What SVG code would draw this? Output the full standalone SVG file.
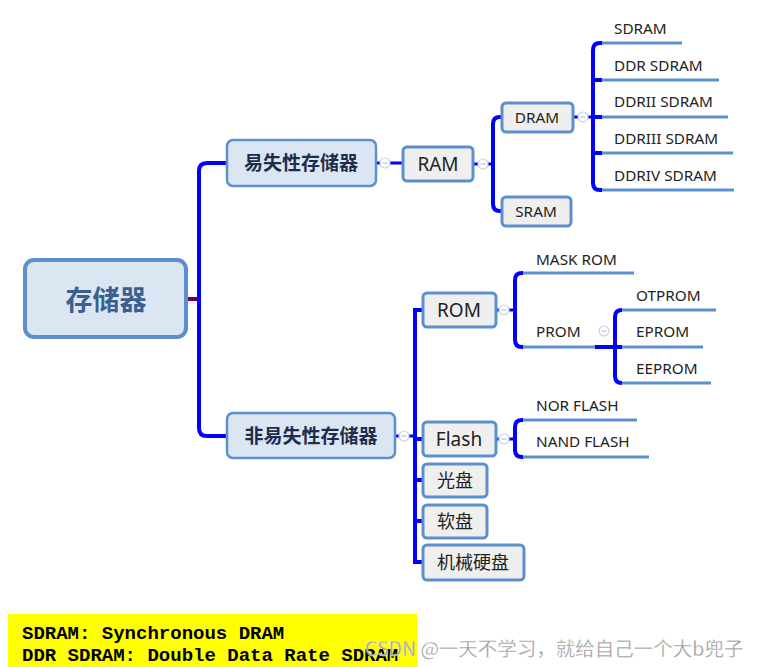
<svg xmlns="http://www.w3.org/2000/svg" width="760" height="667" viewBox="0 0 760 667">
  <style>
    .box { fill: #efefef; stroke: #5b8fd0; stroke-width: 3; }
    .main { fill: #dce6f2; stroke: #5b8fd0; stroke-width: 2.5; }
    .root { fill: #dce6f2; stroke: #5b8fd0; stroke-width: 4; }
    .wire { fill: none; stroke: #0000ff; stroke-width: 4; }
    .thin { fill: none; stroke: #0000ff; stroke-width: 3; }
    .leaf { fill: none; stroke: #5b8fd0; stroke-width: 3; }
    .t { font-family: "Noto Sans", "Open Sans", "Noto Sans CJK SC", sans-serif; font-size: 15.3px; fill: #222; }
    .tb { font-family: "Noto Sans", "Noto Sans CJK SC", sans-serif; font-size: 19px; fill: #222; text-anchor: middle; }
    .cn { font-family: "Noto Sans CJK SC", sans-serif; font-size: 18px; fill: #222; text-anchor: middle; }
    .cnb { font-family: "Noto Sans CJK SC", sans-serif; font-size: 19px; font-weight: bold; fill: #1f2d4d; text-anchor: middle; }
    .mono { font-family: "Liberation Mono", "Courier New", monospace; font-size: 19px; font-weight: bold; fill: #000; }
  </style>
  <defs>
    <g id="toggle">
      <circle r="5" fill="#ffffff" stroke="#c5d3ef" stroke-width="1.2"/>
      <line x1="-2.5" y1="0" x2="2.5" y2="0" stroke="#a0b4e0" stroke-width="1"/>
    </g>
  </defs>

  <rect width="760" height="667" fill="#ffffff"/>

  <!-- connectors -->
  <g id="connectors">
    <path d="M187 299 H198" stroke="#660066" stroke-width="4" fill="none"/>
    <path class="wire" d="M226 163 H207 Q199 163 199 171 V428 Q199 436 207 436 H226"/>
    <path class="thin" d="M377 163 H402"/>
    <path class="thin" d="M474 164 H493"/>
    <path class="wire" d="M501 117 H500 Q493 117 493 124 V204 Q493 211 500 211 H501"/>
    <path class="thin" d="M574 117 H593"/>
    <path class="wire" d="M602 43 H600 Q593 43 593 50 V183 Q593 190 600 190 H602 M593 80 H602 M593 117 H602 M593 153 H602"/>
    <path class="leaf" d="M602 43 H682 M602 80 H719 M602 117 H728 M602 153 H733 M602 190 H734"/>

    <path class="thin" d="M396 436 H415"/>
    <path class="wire" d="M422 310 H415 V562 H422 M415 439 H422 M415 480 H422 M415 521 H422"/>
    <path class="thin" d="M497 310 H515"/>
    <path class="wire" d="M523 273 H522 Q515 273 515 280 V340 Q515 347 522 347 H523"/>
    <path class="leaf" d="M523 273 H634 M523 347 H595"/>
    <path class="wire" d="M595 347 H622 M622 310 H622 Q615 310 615 317 V376 Q615 383 622 383"/>
    <path class="leaf" d="M622 310 H716 M622 347 H703 M622 383 H711"/>
    <path class="thin" d="M497 439 H515"/>
    <path class="wire" d="M523 420 H522 Q515 420 515 427 V450 Q515 457 522 457 H523"/>
    <path class="leaf" d="M523 420 H637 M523 457 H649"/>

    <use href="#toggle" x="385" y="163"/>
    <use href="#toggle" x="483" y="164"/>
    <use href="#toggle" x="583" y="117"/>
    <use href="#toggle" x="404" y="436"/>
    <use href="#toggle" x="504" y="310"/>
    <use href="#toggle" x="604" y="331"/>
    <use href="#toggle" x="504" y="439"/>
  </g>

  <!-- root -->
  <g id="node-root">
    <rect class="root" x="25" y="260" width="161" height="77" rx="9"/>
    <text x="106" y="310" font-family="Noto Sans CJK SC, sans-serif" font-size="27" font-weight="bold" fill="#3a6090" text-anchor="middle">存储器</text>
  </g>

  <g id="node-volatile">
    <rect class="main" x="227" y="140" width="149" height="46" rx="6"/>
    <text class="cnb" x="301" y="170">易失性存储器</text>
  </g>
  <g id="node-nonvolatile">
    <rect class="main" x="227" y="413" width="168" height="45" rx="6"/>
    <text class="cnb" x="311" y="443">非易失性存储器</text>
  </g>

  <g id="node-ram">
    <rect class="box" x="403" y="147" width="70" height="34" rx="4"/>
    <text class="tb" x="438" y="171">RAM</text>
  </g>
  <g id="node-dram">
    <rect class="box" x="502" y="103" width="71" height="29" rx="4"/>
    <text class="t" x="537" y="123" text-anchor="middle">DRAM</text>
  </g>
  <g id="node-sram">
    <rect class="box" x="502" y="197" width="69" height="29" rx="4"/>
    <text class="t" x="536" y="217" text-anchor="middle">SRAM</text>
  </g>

  <g id="leaf-sdram"><text class="t" x="614" y="34">SDRAM</text></g>
  <g id="leaf-ddr"><text class="t" x="614" y="71">DDR SDRAM</text></g>
  <g id="leaf-ddr2"><text class="t" x="614" y="107">DDRII SDRAM</text></g>
  <g id="leaf-ddr3"><text class="t" x="614" y="144">DDRIII SDRAM</text></g>
  <g id="leaf-ddr4"><text class="t" x="614" y="181">DDRIV SDRAM</text></g>

  <g id="node-rom">
    <rect class="box" x="423" y="293" width="73" height="34" rx="4"/>
    <text class="tb" x="459" y="317">ROM</text>
  </g>
  <g id="node-flash">
    <rect class="box" x="423" y="422" width="73" height="34" rx="4"/>
    <text class="tb" x="459" y="446">Flash</text>
  </g>
  <g id="node-optical">
    <rect class="box" x="423" y="464" width="64" height="33" rx="4"/>
    <text class="cn" x="455" y="487">光盘</text>
  </g>
  <g id="node-floppy">
    <rect class="box" x="423" y="505" width="64" height="33" rx="4"/>
    <text class="cn" x="455" y="528">软盘</text>
  </g>
  <g id="node-hdd">
    <rect class="box" x="423" y="545" width="101" height="35" rx="4"/>
    <text class="cn" x="473" y="569">机械硬盘</text>
  </g>

  <g id="leaf-maskrom"><text class="t" x="536" y="265">MASK ROM</text></g>
  <g id="leaf-prom"><text class="t" x="536" y="337">PROM</text></g>
  <g id="leaf-otprom"><text class="t" x="636" y="301">OTPROM</text></g>
  <g id="leaf-eprom"><text class="t" x="636" y="337">EPROM</text></g>
  <g id="leaf-eeprom"><text class="t" x="636" y="374">EEPROM</text></g>
  <g id="leaf-nor"><text class="t" x="536" y="411">NOR FLASH</text></g>
  <g id="leaf-nand"><text class="t" x="536" y="447">NAND FLASH</text></g>

  <!-- abbreviation note -->
  <g id="note">
    <rect x="8" y="614" width="409" height="53" fill="#ffff00"/>
    <text class="mono" x="22" y="639">SDRAM: Synchronous DRAM</text>
    <text class="mono" x="22" y="661">DDR SDRAM: Double Data Rate SDRAM</text>
  </g>
  <text x="365" y="656" font-family="Noto Sans CJK SC, sans-serif" font-size="19.5" fill="#9a9a9a" stroke="#ffffff" stroke-width="0.3">CSDN @一天不学习，就给自己一个大b兜子</text>
</svg>
